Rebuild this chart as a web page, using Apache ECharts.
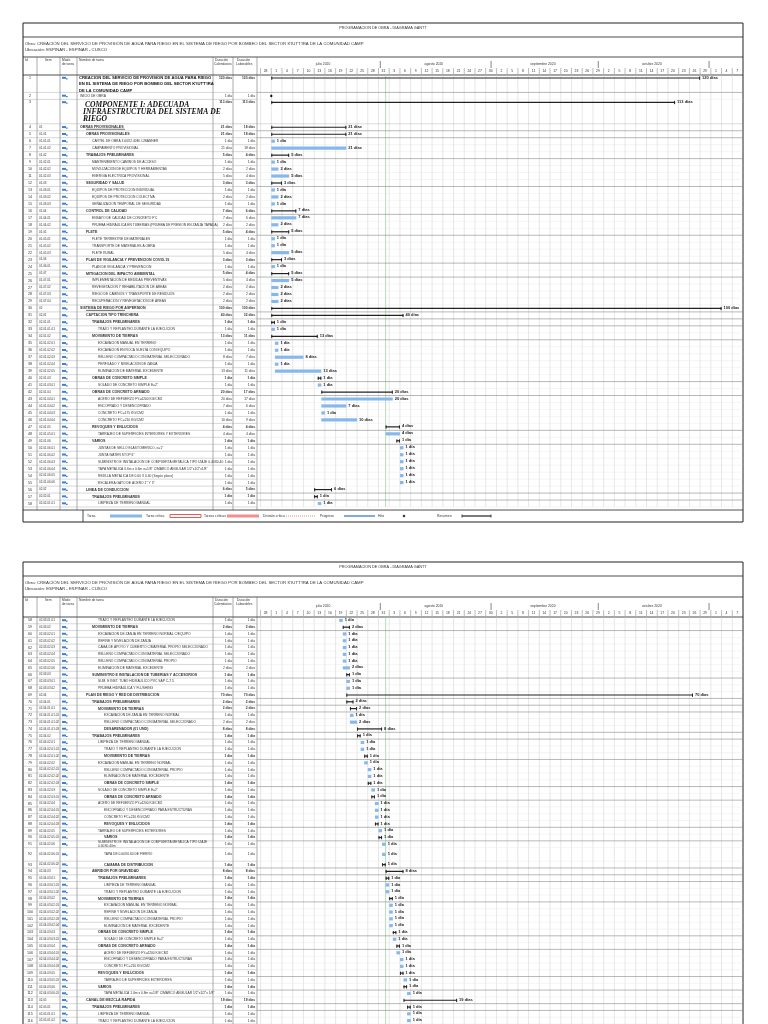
<!DOCTYPE html>
<html><head><meta charset="utf-8">
<script src="https://cdn.jsdelivr.net/npm/echarts@6/dist/echarts.min.js"></script>
<style>html,body{margin:0;padding:0;background:#fff}#c{width:768px;height:1024px}</style>
</head><body><div id="c"></div>
<script>
// ---------- DATA ----------
const ids1 = [1,2,3,4,5,6,7,8,9,10,11,12,13,14,15,16,17,18,19,20,21,22,23,24,25,26,27,28,29,30,31,32,33,34,35,36,37,38,39,40,41,42,43,44,45,46,47,48,49,50,51,52,53,54,55,56,57,58];
const items1 = ["","","","01","01.01","01.01.01","01.01.02","01.02","01.02.01","01.02.02","01.02.03","01.03","01.03.01","01.03.02","01.03.03","01.04","01.04.01","01.04.02","01.05","01.05.01","01.05.02","01.05.03","01.06","01.06.01","01.07","01.07.01","01.07.02","01.07.03","01.07.04","02","02.01","02.01.01","02.01.01.01","02.01.02","02.01.02.01","02.01.02.02","02.01.02.03","02.01.02.04","02.01.02.05","02.01.03","02.01.03.01","02.01.04","02.01.04.01","02.01.04.02","02.01.04.03","02.01.04.04","02.01.05","02.01.05.01","02.01.06","02.01.06.01","02.01.06.02","02.01.06.03","02.01.06.04","02.01.06.05","02.01.06.06","02.02","02.02.01","02.02.01.01"];
const names1 = ["CREACION DEL SERVICIO DE PROVISION DE AGUA PARA RIEGO|EN EL SISTEMA DE RIEGO POR BOMBEO DEL SECTOR K'IUTT'IRA|DE LA COMUNIDAD CAMP","INICIO DE OBRA","COMPONENTE I: ADECUADA|INFRAESTRUCTURA DEL SISTEMA DE|RIEGO","OBRAS PROVISIONALES","OBRAS PROVISIONALES","CARTEL DE OBRA 3.60X2.40M. C/BANNER","CAMPAMENTO PROVISIONAL","TRABAJOS PRELIMINARES","MANTENIMIENTO CAMINOS DE ACCESO","MOVILIZACION DE EQUIPOS Y HERRAMIENTAS","ENERGIA ELECTRICA PROVISIONAL","SEGURIDAD Y SALUD","EQUIPOS DE PROTECCION INDIVIDUAL","EQUIPOS DE PROTECCION COLECTIVA","SEÑALIZACION TEMPORAL DE SEGURIDAD","CONTROL DE CALIDAD","ENSAYO DE CALIDAD DE CONCRETO F'C","PRUEBA HIDRAULICA EN TUBERIAS (PRUEBA DE PRESION EN ZANJA TAPADA)","FLETE","FLETE TERRESTRE DE MATERIALES","TRANSPORTE DE MATERIALES A OBRA","FLETE RURAL","PLAN DE VIGILANCIA Y PREVENCION COVID-19","PLAN DE VIGILANCIA Y PREVENCION","MITIGACION DEL IMPACTO AMBIENTAL","IMPLEMENTACION DE MEDIDAS PREVENTIVAS","REVEGETACION Y REHABILITACION DE AREAS","RIEGO DE CAMINOS Y TRANSPORTE DE RESIDUOS","RECUPERACION Y REVEGETACION DE AREAS","SISTEMA DE RIEGO POR ASPERSION","CAPTACION TIPO TRINCHERA","TRABAJOS PRELIMINARES","TRAZO Y REPLANTEO DURANTE LA EJECUCION","MOVIMIENTO DE TIERRAS","EXCAVACION MANUAL EN TERRENO","EXCAVACION EN ROCA SUELTA CON EQUIPO","RELLENO COMPACTADO CON MATERIAL SELECCIONADO","PERFILADO Y NIVELACION DE ZANJA","ELIMINACION DE MATERIAL EXCEDENTE","OBRAS DE CONCRETO SIMPLE","SOLADO DE CONCRETO SIMPLE E=2\"","OBRAS DE CONCRETO ARMADO","ACERO DE REFUERZO FY=4200 KG/CM2","ENCOFRADO Y DESENCOFRADO","CONCRETO F'C=175 KG/CM2","CONCRETO F'C=210 KG/CM2","REVOQUES Y ENLUCIDOS","TARRAJEO DE SUPERFICIES INTERIORES Y EXTERIORES","VARIOS","JUNTAS DE SELLO ELASTOMERICO, e=1\"","JUNTA WATER STOP 6\"","SUMINISTRO E INSTALACION DE COMPUERTA METALICA TIPO IZAJE 0.40X0.40","TAPA METALICA 0.6m x 0.6m e=1/8\" C/MARCO ANGULAR 1/2\"x1/2\"x1/8\"","REJILLA METALICA DE 0.60 X 0.40 (Según plano)","ESCALERA GATO DE ACERO 1\" Y 3\"","LINEA DE CONDUCCION","TRABAJOS PRELIMINARES","LIMPIEZA DE TERRENO MANUAL"];
const types1 = "SMCSSTTSTTTSTTTSTTSTTTSTSTTTTSSSTSTTTTTSTSTTTTSTSTTTTTTSST";
const start1 = [0,0,0,0,0,0,0,0,0,0,0,0,0,0,0,0,0,0,0,0,0,0,0,0,0,0,0,0,0,0,0,0,0,0,1,1,1,1,1,13,13,14,14,14,14,14,32,32,35,36,36,36,36,36,36,12,12,13];
const dur1 = [120,0,113,21,21,1,21,5,1,2,5,3,1,2,1,7,7,2,5,1,1,5,3,1,5,5,2,2,2,126,37,1,1,13,1,1,8,1,13,1,1,20,20,7,1,10,4,4,1,1,1,1,1,1,1,5,1,1];
const lab1 = ["120 días","","113 días","21 días","21 días","1 día","21 días","5 días","1 día","2 días","5 días","3 días","1 día","2 días","1 día","7 días","7 días","2 días","5 días","1 día","1 día","5 días","3 días","1 día","5 días","5 días","2 días","2 días","2 días","100 días","40 días","1 día","1 día","13 días","1 día","1 día","8 días","1 día","13 días","1 día","1 día","20 días","20 días","7 días","1 día","10 días","4 días","4 días","1 día","1 día","1 día","1 día","1 día","1 día","1 día","6 días","1 día","1 día"];
const labw1 = ["120 días","1 día","113 días","18 días","18 días","1 día","18 días","4 días","1 día","2 días","4 días","3 días","1 día","2 días","1 día","6 días","6 días","2 días","4 días","1 día","1 día","4 días","3 días","1 día","4 días","4 días","2 días","2 días","2 días","100 días","32 días","1 día","1 día","11 días","1 día","1 día","7 días","1 día","11 días","1 día","1 día","17 días","17 días","6 días","1 día","9 días","4 días","4 días","1 día","1 día","1 día","1 día","1 día","1 día","1 día","5 días","1 día","1 día"];
const span1 = {1:2.5, 3:3.5};

const ids2 = [58,59,60,61,62,63,64,65,66,67,68,69,70,71,72,73,74,75,76,77,78,79,80,81,82,83,84,85,86,87,88,89,90,91,92,93,94,95,96,97,98,99,100,101,102,103,104,105,106,107,108,109,110,111,112,113,114,115,116];
const items2 = ["02.03.01.01","02.03.02","02.03.02.01","02.03.02.02","02.03.02.03","02.03.02.04","02.03.02.05","02.03.02.06","02.03.03","02.03.03.01","02.03.03.02","02.04","02.04.01","02.04.01.01","02.04.01.01.01","02.04.01.01.02","02.04.01.01.03","02.04.02","02.04.02.01","02.04.02.01.01","02.04.02.01.02","02.04.02.02","02.04.02.02.01","02.04.02.02.02","02.04.02.02.03","02.04.02.03","02.04.02.03.01","02.04.02.04","02.04.02.04.01","02.04.02.04.02","02.04.02.04.03","02.04.02.05","02.04.02.05.01","02.04.02.06","02.04.02.06.01","02.04.02.06.02","02.04.03","02.04.03.01","02.04.03.01.01","02.04.03.01.02","02.04.03.02","02.04.03.02.01","02.04.03.02.02","02.04.03.02.03","02.04.03.02.04","02.04.03.03","02.04.03.03.01","02.04.03.04","02.04.03.04.01","02.04.03.04.02","02.04.03.04.03","02.04.03.05","02.04.03.05.01","02.04.03.06","02.04.03.06.01","02.05","02.05.01","02.05.01.01","02.05.01.02"];
const names2 = ["TRAZO Y REPLANTEO DURANTE LA EJECUCION","MOVIMIENTO DE TIERRAS","EXCAVACION DE ZANJA EN TERRENO NORMAL C/EQUIPO","REFINE Y NIVELACION DE ZANJA","CAMA DE APOYO Y CUBIERTO C/MATERIAL PROPIO SELECCIONADO","RELLENO COMPACTADO CON MATERIAL SELECCIONADO","RELLENO COMPACTADO CON MATERIAL PROPIO","ELIMINACION DE MATERIAL EXCEDENTE","SUMINISTRO E INSTALACION DE TUBERIAS Y ACCESORIOS","SUM. E INST. TUBO HIDRAULICO PVC SAP C-7.5","PRUEBA HIDRAULICA Y FLUSHING","PLAN DE RIEGO Y RED DE DISTRIBUCION","TRABAJOS PRELIMINARES","MOVIMIENTO DE TIERRAS","EXCAVACION DE ZANJA EN TERRENO NORMAL","RELLENO COMPACTADO CON MATERIAL SELECCIONADO","DESARENADOR (01 UND)","TRABAJOS PRELIMINARES","LIMPIEZA DE TERRENO MANUAL","TRAZO Y REPLANTEO DURANTE LA EJECUCION","MOVIMIENTO DE TIERRAS","EXCAVACION MANUAL EN TERRENO NORMAL","RELLENO COMPACTADO CON MATERIAL PROPIO","ELIMINACION DE MATERIAL EXCEDENTE","OBRAS DE CONCRETO SIMPLE","SOLADO DE CONCRETO SIMPLE E=2\"","OBRAS DE CONCRETO ARMADO","ACERO DE REFUERZO FY=4200 KG/CM2","ENCOFRADO Y DESENCOFRADO PARA ESTRUCTURAS","CONCRETO F'C=210 KG/CM2","REVOQUES Y ENLUCIDOS","TARRAJEO DE SUPERFICIES EXTERIORES","VARIOS","SUMINISTRO E INSTALACION DE COMPUERTA METALICA TIPO IZAJE|0.40X0.40m","TAPA DE 0.60X0.60 DE FIERRO","CAMARA DE DISTRIBUCION","ABRIDOR POR GRAVEDAD","TRABAJOS PRELIMINARES","LIMPIEZA DE TERRENO MANUAL","TRAZO Y REPLANTEO DURANTE LA EJECUCION","MOVIMIENTO DE TIERRAS","EXCAVACION MANUAL EN TERRENO NORMAL","REFINE Y NIVELACION DE ZANJA","RELLENO COMPACTADO CON MATERIAL PROPIO","ELIMINACION DE MATERIAL EXCEDENTE","OBRAS DE CONCRETO SIMPLE","SOLADO DE CONCRETO SIMPLE E=2\"","OBRAS DE CONCRETO ARMADO","ACERO DE REFUERZO FY=4200 KG/CM2","ENCOFRADO Y DESENCOFRADO PARA ESTRUCTURAS","CONCRETO F'C=210 KG/CM2","REVOQUES Y ENLUCIDOS","TARRAJEO DE SUPERFICIES EXTERIORES","VARIOS","TAPA METALICA 1.0m x 0.8m e=1/8\" C/MARCO ANGULAR 1/2\"x1/2\"x 1/8\"","CANAL DE MEZCLA RAPIDA","TRABAJOS PRELIMINARES","LIMPIEZA DE TERRENO MANUAL","TRAZO Y REPLANTEO DURANTE LA EJECUCION"];
const types2 = "TSTTTTTTSTTSSSTTSSTTSTTTSTSTTTSTSTTSSSTTSTTTTSTSTTTSTSTSSTT";
const start2 = [19,20,20,20,20,20,20,20,21,21,21,21,21,22,22,22,24,24,25,25,26,26,27,27,27,28,28,29,29,29,29,30,30,31,31,31,32,32,32,32,33,33,33,33,33,34,34,35,35,36,36,36,37,37,38,37,38,38,38];
const dur2 = [1,2,1,1,1,1,1,2,1,1,1,97,2,2,1,2,7,1,1,1,1,1,1,1,1,1,1,1,1,1,1,1,1,1,1,1,5,1,1,1,1,1,1,1,1,1,1,1,1,1,1,1,1,1,1,15,1,1,1];
const lab2 = ["1 día","2 días","1 día","1 día","1 día","1 día","1 día","2 días","1 día","1 día","1 día","70 días","2 días","2 días","1 día","2 días","8 días","1 día","1 día","1 día","1 día","1 día","1 día","1 día","1 día","1 día","1 día","1 día","1 día","1 día","1 día","1 día","1 día","1 día","1 día","1 día","8 días","1 día","1 día","1 día","1 día","1 día","1 día","1 día","1 día","1 día","1 día","1 día","1 día","1 día","1 día","1 día","1 día","1 día","1 día","19 días","1 día","1 día","1 día"];
const span2 = {92:2};

const tickDays = [-3,0,3,6,9,12,15,18,21,24,27,30,33,36,39,42,45,48,51,54,57,60,63,66,69,72,75,78,81,84,87,90,93,96,99,102,105,108,111,114,117,120,123,126,129];
const months = [["julio 2020",14.5],["agosto 2020",45.5],["septiembre 2020",76],["octubre 2020",106.5]];
const monthEnds = [30.5,61.5,91.5,122.5];
const todayDay = 32;

// ---------- BUILD ----------
const F = 'Liberation Sans, Arial, sans-serif';
function buildRows(ids, starts, durs, spans){
  let y = 0; const out = [];
  ids.forEach((id,i)=>{ const h = spans[id]||1; out.push([y, y+h, starts[i], durs[i], i]); y += h; });
  return {rows: out, total: y};
}
const P1 = buildRows(ids1, start1, dur1, span1);
const P2 = buildRows(ids2, start2, dur2, span2);

function makeRender(ids, items, names, types, labs, labws){
  return function(params, api){
    const i = api.value(4);
    const yS = api.coord([0, api.value(0)])[1], yE = api.coord([0, api.value(1)])[1];
    const t = types[i]; const big = (t==='C'||ids[i]===1); const yc = big ? yS+3 : (yS+yE)/2;
    const ch = [];
    ch.push({type:'line', shape:{x1:23,y1:yE,x2:257,y2:yE}, style:{stroke:'#999',lineWidth:0.4}});
    ch.push({type:'line', shape:{x1:257,y1:yE,x2:743,y2:yE}, style:{stroke:(t==='S'||t==='C')?'#888':'#ddd',lineWidth:(t==='S')?0.6:0.3}});
    const ts = {fontFamily:F, fontSize:3.6, fill:'#333', verticalAlign:'middle'};
    ch.push({type:'text', style:Object.assign({}, ts, {text:String(ids[i]), x:30, y:yc, align:'center'})});
    ch.push({type:'text', style:Object.assign({}, ts, {text:items[i], x:39, y:yc, align:'left', fontSize:3})});
    ch.push({type:'rect', shape:{x:62,y:yc-1.2,width:4,height:2}, style:{fill:'#3d7fd1'}});
    ch.push({type:'rect', shape:{x:66,y:yc+0.2,width:1.6,height:1.2}, style:{fill:'#3d7fd1'}});
    const depth = items[i] ? items[i].split('.').length : 0;
    if (t==='C'){
      names[i].split('|').forEach((ln,k)=>ch.push({type:'text', style:{text:ln, x:k===0?85:83, y:yS+6+k*7, fontFamily:'Liberation Serif, serif', fontStyle:'italic', fontWeight:'bold', fontSize:7.6, fill:'#111', verticalAlign:'middle'}}));
    } else if (ids[i]===1){
      names[i].split('|').forEach((ln,k)=>ch.push({type:'text', style:{text:ln, x:79, y:yS+2.5+k*6.5, fontFamily:F, fontWeight:'bold', fontSize:4.2, fill:'#111', verticalAlign:'middle'}}));
    } else {
      const ls = names[i].split('|');
      ls.forEach((ln,k)=>ch.push({type:'text', style:Object.assign({}, ts, {text:ln, x:80+Math.max(0,depth-1)*6, y:yc-(ls.length-1)*2+k*4, fontWeight:t==='S'?'bold':'normal', fontSize:t==='S'?3.6:3.3})}));
    }
    if (ids[i]===4||ids[i]===30){ ch.push({type:'line', shape:{x1:86,y1:yc+2,x2:125,y2:yc+2}, style:{stroke:'#111',lineWidth:0.6}}); }
    const bold = (t==='S'||t==='C'||ids[i]===1);
    ch.push({type:'text', style:Object.assign({}, ts, {text:labs[i]||'1 día', x:232, y:yc, align:'right', fontSize:3.3, fontWeight:bold?'bold':'normal'})});
    ch.push({type:'text', style:Object.assign({}, ts, {text:labws[i]||'1 día', x:255, y:yc, align:'right', fontSize:3.3, fontWeight:bold?'bold':'normal'})});
    const s = api.value(2), d = api.value(3);
    const x0 = api.coord([s,0])[0], x1 = api.coord([s+d,0])[0];
    if (t==='M'){
      ch.push({type:'polygon', shape:{points:[[x0,yc-1.6],[x0+1.4,yc],[x0,yc+1.6],[x0-1.4,yc]]}, style:{fill:'#111'}});
    } else if (t==='T'){
      ch.push({type:'rect', shape:{x:x0,y:yc-1.6,width:Math.max(2,x1-x0),height:3.2}, style:{fill:'#86b8ec'}});
    } else {
      ch.push({type:'line', shape:{x1:x0,y1:yc,x2:x1,y2:yc}, style:{stroke:'#222',lineWidth:1.2}});
      ch.push({type:'line', shape:{x1:x0+0.5,y1:yc-1.5,x2:x0+0.5,y2:yc+1.8}, style:{stroke:'#222',lineWidth:1}});
      ch.push({type:'line', shape:{x1:x1-0.5,y1:yc-1.5,x2:x1-0.5,y2:yc+1.8}, style:{stroke:'#222',lineWidth:1}});
    }
    if (labs[i]) ch.push({type:'text', style:{text:labs[i], x:Math.max(x1,x0+2)+2, y:yc-0.5, fontFamily:F, fontWeight:'bold', fontSize:4, fill:'#222', verticalAlign:'middle'}});
    return {type:'group', children:ch};
  };
}

function gridRender(page){
  return function(params, api){
    const d = api.value(0);
    const x = api.coord([d,0])[0];
    const yt = api.coord([0,0])[1], yb = api.coord([0,page.total])[1];
    const ch = [{type:'line', shape:{x1:x,y1:yt,x2:x,y2:yb}, style:{stroke:'#cfcfcf',lineWidth:0.5}}];
    const dt = new Date(2020,6,1+d);
    ch.push({type:'text', style:{text:String(dt.getDate()), x:x+5, y:yt-4, align:'center', verticalAlign:'middle', fontFamily:F, fontSize:3.4, fill:'#333'}});
    ch.push({type:'line', shape:{x1:x,y1:yt-7,x2:x,y2:yt-1}, style:{stroke:'#555',lineWidth:0.4}});
    return {type:'group', children:ch};
  };
}

function pageGraphics(top, hdrTop, rowsTop, bottom, legend){
  const g = [];
  g.push({type:'rect', shape:{x:23,y:top,width:720,height:bottom-top}, style:{fill:'none',stroke:'#222',lineWidth:1}});
  g.push({type:'text', style:{text:'PROGRAMACION DE OBRA - DIAGRAMA GANTT', x:383, y:top+5, align:'center', verticalAlign:'middle', fontFamily:F, fontSize:3.8, fill:'#333'}});
  g.push({type:'line', shape:{x1:23,y1:top+14,x2:743,y2:top+14}, style:{stroke:'#222',lineWidth:0.8}});
  g.push({type:'text', style:{text:'Obra: CREACIÓN DEL SERVICIO DE PROVISIÓN DE AGUA PARA RIEGO EN EL SISTEMA DE RIEGO POR BOMBEO DEL SECTOR K\'IUTT\'IRA DE LA COMUNIDAD CAMP', x:25, y:top+21, verticalAlign:'middle', fontFamily:F, fontSize:4.3, fill:'#333'}});
  g.push({type:'text', style:{text:'Ubicación: ESPINAR - ESPINAR - CUSCO', x:25, y:top+27, verticalAlign:'middle', fontFamily:F, fontSize:4.3, fill:'#333'}});
  g.push({type:'line', shape:{x1:23,y1:hdrTop,x2:743,y2:hdrTop}, style:{stroke:'#222',lineWidth:0.8}});
  g.push({type:'line', shape:{x1:23,y1:rowsTop,x2:743,y2:rowsTop}, style:{stroke:'#222',lineWidth:0.8}});
  [37,60,77,213,233,257].forEach(x=>g.push({type:'line', shape:{x1:x,y1:hdrTop,x2:x,y2:bottom-(legend?12:0)}, style:{stroke:'#555',lineWidth:0.5}}));
  const hs = {fontFamily:F, fontSize:3.3, fill:'#333'};
  [['Id',25,hdrTop+2],['Item',45,hdrTop+2],['Modo',62,hdrTop+2],['de tarea',62,hdrTop+6],['Nombre de tarea',79,hdrTop+2],['Duración',215,hdrTop+2],['Calendarios',214,hdrTop+6],['Duración',237,hdrTop+2],['Laborables',236,hdrTop+6]].forEach(a=>g.push({type:'text', style:Object.assign({text:a[0],x:a[1],y:a[2]},hs)}));
  if (legend){
    const ly = bottom-6;
    g.push({type:'line', shape:{x1:23,y1:bottom-12,x2:743,y2:bottom-12}, style:{stroke:'#222',lineWidth:0.8}});
    g.push({type:'line', shape:{x1:83,y1:bottom-12,x2:83,y2:bottom}, style:{stroke:'#222',lineWidth:0.8}});
    const ls = {fontFamily:F, fontSize:3.4, fill:'#333', verticalAlign:'middle'};
    g.push({type:'text', style:Object.assign({text:'Tarea',x:87,y:ly},ls)});
    g.push({type:'rect', shape:{x:110,y:ly-1.5,width:32,height:3}, style:{fill:'#86b8ec'}});
    g.push({type:'text', style:Object.assign({text:'Tarea crítica',x:146,y:ly},ls)});
    g.push({type:'rect', shape:{x:170,y:ly-1.5,width:31,height:3}, style:{fill:'#fff',stroke:'#e0302c',lineWidth:0.8}});
    g.push({type:'text', style:Object.assign({text:'Tareas críticas',x:204,y:ly},ls)});
    g.push({type:'rect', shape:{x:227,y:ly-1.5,width:32,height:3}, style:{fill:'#f08f8f'}});
    g.push({type:'text', style:Object.assign({text:'División crítica',x:263,y:ly},ls)});
    g.push({type:'line', shape:{x1:286,y1:ly,x2:316,y2:ly}, style:{stroke:'#e88',lineWidth:1,lineDash:[1,1]}});
    g.push({type:'text', style:Object.assign({text:'Progreso',x:320,y:ly},ls)});
    g.push({type:'line', shape:{x1:344,y1:ly,x2:375,y2:ly}, style:{stroke:'#2f6fd0',lineWidth:1.2}});
    g.push({type:'text', style:Object.assign({text:'Hito',x:378,y:ly},ls)});
    g.push({type:'polygon', shape:{points:[[404,ly-1.5],[405.5,ly],[404,ly+1.5],[402.5,ly]]}, style:{fill:'#222'}});
    g.push({type:'text', style:Object.assign({text:'Resumen',x:437,y:ly},ls)});
    g.push({type:'line', shape:{x1:462,y1:ly,x2:491,y2:ly}, style:{stroke:'#222',lineWidth:1.2}});
    g.push({type:'line', shape:{x1:462,y1:ly-1.5,x2:462,y2:ly+1.5}, style:{stroke:'#222',lineWidth:0.8}});
    g.push({type:'line', shape:{x1:491,y1:ly-1.5,x2:491,y2:ly+1.5}, style:{stroke:'#222',lineWidth:0.8}});
  }
  return g;
}

function monthRender(params, api){
  const x = api.coord([api.value(0),0])[0]; const yt = api.coord([0,0])[1];
  return {type:'text', style:{text:months[params.dataIndex][0], x:x, y:yt-11, align:'center', verticalAlign:'middle', fontFamily:F, fontSize:3.4, fill:'#333'}};
}
function sepRender(params, api){
  const x = api.coord([api.value(0),0])[0]; const yt = api.coord([0,0])[1];
  return {type:'line', shape:{x1:x,y1:yt-14,x2:x,y2:yt-7}, style:{stroke:'#333',lineWidth:0.6}};
}
function todayRender(page){ return function(params, api){
  const x = api.coord([api.value(0),0])[0];
  return {type:'line', shape:{x1:x,y1:api.coord([0,0])[1],x2:x,y2:api.coord([0,page.total])[1]}, style:{stroke:'#9fd39f',lineWidth:0.8}};
};}

const chart = echarts.init(document.getElementById('c'), null, {renderer:'canvas'});
const grids = [{left:257,right:25,top:75,height:432},{left:257,right:25,top:617,height:407}];
const pages = [P1,P2];
const series = [];
pages.forEach((P,k)=>{
  series.push({type:'custom', xAxisIndex:k, yAxisIndex:k, silent:true, renderItem:gridRender(P), data:tickDays.map(d=>[d]), z:1});
  series.push({type:'custom', xAxisIndex:k, yAxisIndex:k, silent:true, renderItem:monthRender, data:months.map(m=>[m[1]]), z:2});
  series.push({type:'custom', xAxisIndex:k, yAxisIndex:k, silent:true, renderItem:sepRender, data:monthEnds.map(d=>[d]), z:2});
  series.push({type:'custom', xAxisIndex:k, yAxisIndex:k, silent:true, renderItem:todayRender(P), data:[[todayDay]], z:2});
  const r = k===0 ? makeRender(ids1,items1,names1,types1,lab1,labw1) : makeRender(ids2,items2,names2,types2,lab2,lab2);
  series.push({type:'custom', xAxisIndex:k, yAxisIndex:k, silent:true, renderItem:r, data:P.rows, z:3, clip:false});
});
chart.setOption({
  animation:false,
  grid:grids,
  xAxis:grids.map((g,k)=>({type:'value', gridIndex:k, min:-4, max:132, show:false})),
  yAxis:grids.map((g,k)=>({type:'value', gridIndex:k, min:0, max:k===0?P1.total:60, inverse:true, show:false})),
  graphic:[].concat(pageGraphics(23,57,75,522,true), pageGraphics(562,597,617,1030,false)),
  series:series
});
</script></body></html>
